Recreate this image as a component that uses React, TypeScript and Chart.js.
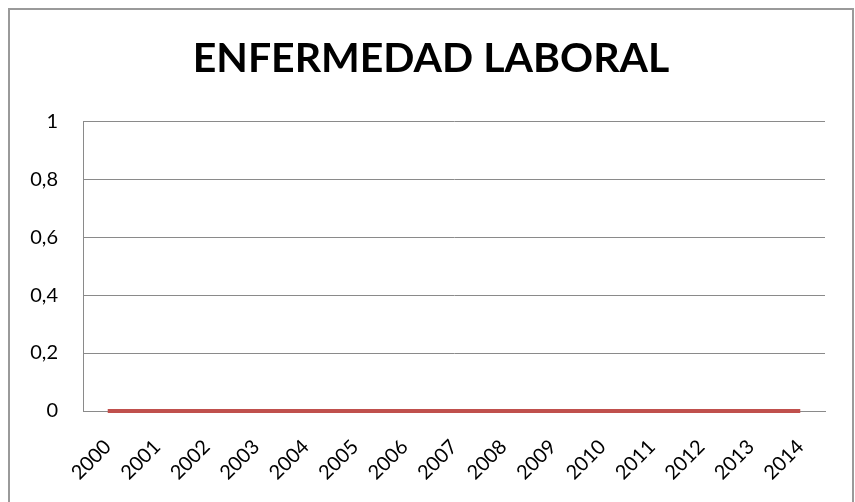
import React, { useEffect, useRef } from "react";
import { Chart, registerables } from "chart.js";

Chart.register(...registerables);

const categories = ["2000", "2001", "2002", "2003", "2004", "2005", "2006", "2007", "2008", "2009", "2010", "2011", "2012", "2013", "2014"];
const seriesValues = [0, 0, 0, 0, 0, 0, 0, 0, 0, 0, 0, 0, 0, 0, 0];
const yTickLabels = ["0", "0,2", "0,4", "0,6", "0,8", "1"];
const chartTitle = "ENFERMEDAD LABORAL";

export default function App() {
  const ref = useRef<HTMLCanvasElement | null>(null);

  useEffect(() => {
    if (!ref.current) return;
    const grey = "#8a8a8a";
    const chart = new Chart(ref.current, {
      type: "line",
      data: {
        labels: categories,
        datasets: [
          {
            label: "Enfermedad laboral",
            data: seriesValues,
            borderColor: "#C0504D",
            backgroundColor: "#C0504D",
            borderWidth: 4,
            pointRadius: 0,
            tension: 0,
            clip: false,
          } as any,
        ],
      },
      options: {
        animation: false,
        responsive: false,
        maintainAspectRatio: false,
        layout: { padding: 0 },
        plugins: {
          legend: { display: false },
          tooltip: { enabled: false },
          title: {
            display: true,
            text: chartTitle,
            color: "#000",
            font: { family: "Lato", size: 41, weight: "bold", lineHeight: 1.2 },
            padding: { top: 24, bottom: 38 },
          },
        },
        scales: {
          x: {
            offset: true,
            grid: { display: false, drawTicks: false },
            border: { display: true, color: grey, width: 1 },
            ticks: {
              color: "#000",
              font: { family: "Lato", size: 20 },
              minRotation: 45,
              maxRotation: 45,
              autoSkip: false,
              padding: 24,
            },
            afterFit: (s: any) => {
              s.height = 91;
            },
          },
          y: {
            min: 0,
            max: 1,
            ticks: {
              stepSize: 0.2,
              color: "#000",
              font: { family: "Lato", size: 20 },
              padding: 25,
              callback: (_v: any, i: number) => yTickLabels[i],
            },
            grid: { color: grey, lineWidth: 1, drawTicks: false },
            border: { display: true, color: grey, width: 1 },
            afterFit: (s: any) => {
              s.width = 73;
            },
          },
          yRight: {
            position: "right",
            min: 0,
            max: 1,
            ticks: { display: false },
            grid: { display: false, drawTicks: false },
            border: { display: false },
            afterFit: (s: any) => {
              s.width = 27;
            },
          },
        },
      },
    });
    return () => chart.destroy();
  }, []);

  return (
    <div
      style={{
        position: "fixed",
        left: 8,
        top: 8,
        width: 846,
        height: 494,
        borderLeft: "2px solid #9a9a9a",
        borderTop: "2px solid #9a9a9a",
        borderRight: "2px solid #9a9a9a",
        background: "#fff",
        boxSizing: "border-box",
        overflow: "hidden",
      }}
    >
      <canvas ref={ref} width={842} height={492} style={{ display: "block" }} />
    </div>
  );
}
